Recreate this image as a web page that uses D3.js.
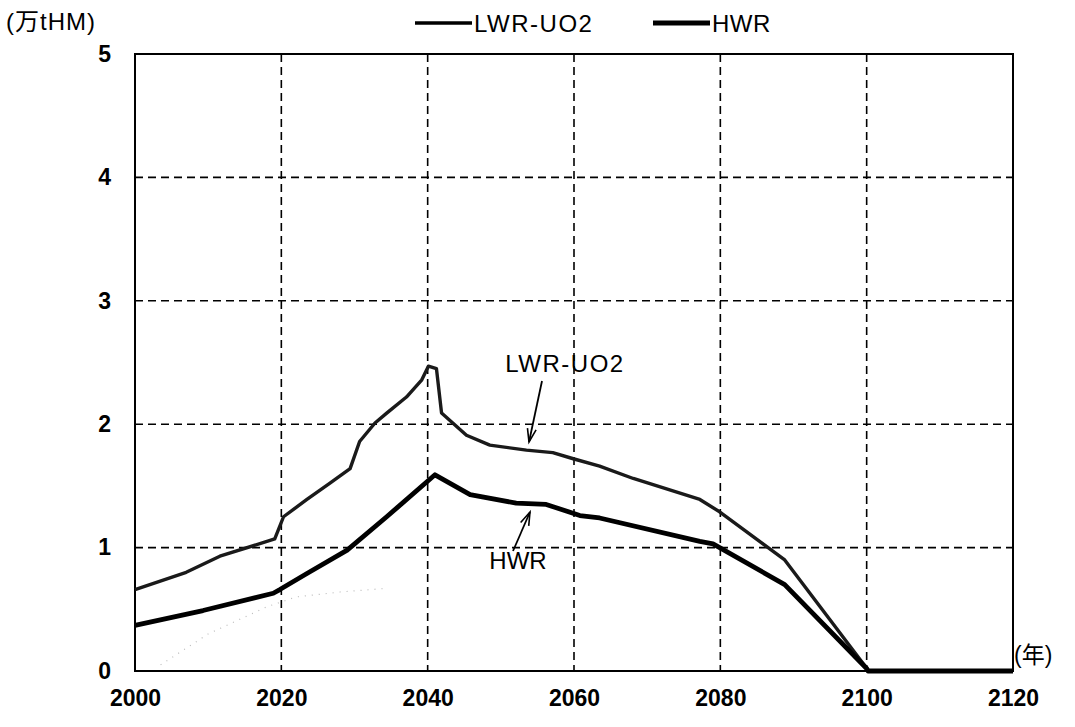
<!DOCTYPE html>
<html lang="ja">
<head>
<meta charset="utf-8">
<script src="https://cdn.jsdelivr.net/npm/d3@7"></script>
<style>
  body { margin: 0; background: #fff; }
  text { font-family: "Liberation Sans", Arial, "Noto Sans CJK JP", sans-serif; fill: #000; }
</style>
</head>
<body>
<script>
// data (unit: 万tHM)
var lwrYears = [2000, 2007, 2011.6, 2019.1, 2020.3, 2023.5, 2026.6, 2029.4, 2030.7, 2032.8, 2034.4, 2037.1, 2039.2, 2040.1, 2041.2, 2041.9, 2045.3, 2048.5, 2053.5, 2057.1, 2059.9, 2063.5, 2068.1, 2077.2, 2079.9, 2088.8, 2099.9, 2100.1, 2120];
var lwrValues = [0.66, 0.80, 0.93, 1.07, 1.25, 1.39, 1.52, 1.64, 1.86, 2.01, 2.09, 2.22, 2.36, 2.47, 2.45, 2.09, 1.91, 1.83, 1.79, 1.77, 1.72, 1.66, 1.56, 1.39, 1.29, 0.90, 0.03, 0, 0];
var hwrYears = [2000, 2009.3, 2018.9, 2019.8, 2023.5, 2029, 2034.4, 2041, 2045.8, 2052.1, 2056.2, 2060.8, 2063.5, 2077.2, 2079, 2088.8, 2100, 2100.2, 2120];
var hwrValues = [0.37, 0.49, 0.63, 0.66, 0.79, 0.98, 1.25, 1.59, 1.43, 1.36, 1.35, 1.26, 1.24, 1.05, 1.03, 0.70, 0.02, 0, 0];
// faint dotted trace visible in the scan
var faintYears = [2003.5, 2010, 2018, 2022, 2028, 2034.4];
var faintValues = [0.05, 0.30, 0.52, 0.60, 0.64, 0.67];
var xTicks = [2000, 2020, 2040, 2060, 2080, 2100, 2120];
var yTicks = [0, 1, 2, 3, 4, 5];
var seriesNames = ["LWR-UO2", "HWR"];

var W = 1075, H = 727;
var x = d3.scaleLinear().domain([2000, 2120]).range([135, 1013]);
var y = d3.scaleLinear().domain([0, 5]).range([671, 54]);

var svg = d3.select("body").append("svg").attr("width", W).attr("height", H);

// grid
var grid = svg.append("g").attr("stroke", "#000").attr("stroke-width", 1.6).attr("stroke-dasharray", "8,5");
grid.selectAll("line.v").data(xTicks.slice(1, -1)).enter().append("line")
  .attr("x1", function(d){ return x(d); }).attr("x2", function(d){ return x(d); })
  .attr("y1", y(5)).attr("y2", y(0));
grid.selectAll("line.h").data(yTicks.slice(1, -1)).enter().append("line")
  .attr("y1", function(d){ return y(d); }).attr("y2", function(d){ return y(d); })
  .attr("x1", x(2000)).attr("x2", x(2120));

// frame
svg.append("rect").attr("x", x(2000)).attr("y", y(5))
  .attr("width", x(2120) - x(2000)).attr("height", y(0) - y(5))
  .attr("fill", "none").attr("stroke", "#000").attr("stroke-width", 2);

// tick labels via d3 axes
var tickFont = "Liberation Sans Narrow, Arial Narrow, Liberation Sans, Arial, sans-serif";
var xAxis = svg.append("g").attr("transform", "translate(0," + y(0) + ")")
  .call(d3.axisBottom(x).tickValues(xTicks).tickFormat(d3.format("d")).tickSize(0).tickPadding(19));
xAxis.select(".domain").remove();
xAxis.selectAll("text").attr("font-size", 23).attr("font-weight", "bold").attr("fill", "#000")
  .attr("font-family", tickFont);

var yAxis = svg.append("g").attr("transform", "translate(" + x(2000) + ",0)")
  .call(d3.axisLeft(y).tickValues(yTicks).tickFormat(d3.format("d")).tickSize(0).tickPadding(24));
yAxis.select(".domain").remove();
yAxis.selectAll("text").attr("font-size", 23).attr("font-weight", "bold").attr("fill", "#000")
  .attr("font-family", tickFont);

svg.append("text").attr("x", 6).attr("y", 30).attr("font-size", 24).attr("letter-spacing", 1).text("(万tHM)");
svg.append("text").attr("x", 1014).attr("y", 663).attr("font-size", 23).text("(年)");

// lines
var lineGen = d3.line().x(function(d){ return x(d[0]); }).y(function(d){ return y(d[1]); });
var faint = d3.zip(faintYears, faintValues);
svg.append("path").datum(faint).attr("d", lineGen)
  .attr("fill", "none").attr("stroke", "#bbb").attr("stroke-width", 1.2).attr("stroke-dasharray", "1,6");

svg.append("path").datum(d3.zip(lwrYears, lwrValues)).attr("d", lineGen)
  .attr("fill", "none").attr("stroke", "#1a1a1a").attr("stroke-width", 3.4)
  .attr("stroke-linejoin", "round");
svg.append("path").datum(d3.zip(hwrYears, hwrValues)).attr("d", lineGen)
  .attr("fill", "none").attr("stroke", "#000").attr("stroke-width", 4.8)
  .attr("stroke-linejoin", "round");

// legend
var legend = svg.append("g");
var legX = [415, 653], legW = [3.4, 4.8];
seriesNames.forEach(function(name, i){
  legend.append("line").attr("x1", legX[i]).attr("x2", legX[i] + 57).attr("y1", 23).attr("y2", 23)
    .attr("stroke", "#000").attr("stroke-width", legW[i]);
  legend.append("text").attr("x", legX[i] + 59).attr("y", 32).attr("font-size", 24)
    .attr("letter-spacing", i === 0 ? 1.5 : 0.5).text(name);
});

// annotations with arrows
function arrow(x1, y1, x2, y2) {
  svg.append("line").attr("x1", x1).attr("y1", y1).attr("x2", x2).attr("y2", y2)
    .attr("stroke", "#000").attr("stroke-width", 1.8);
  var a = Math.atan2(y2 - y1, x2 - x1), L = 14, s = 0.32;
  svg.append("path")
    .attr("d", "M" + (x2 - L * Math.cos(a - s)) + "," + (y2 - L * Math.sin(a - s)) +
      "L" + x2 + "," + y2 + "L" + (x2 - L * Math.cos(a + s)) + "," + (y2 - L * Math.sin(a + s)))
    .attr("fill", "none").attr("stroke", "#000").attr("stroke-width", 1.6);
}
svg.append("text").attr("x", 565).attr("y", 372).attr("text-anchor", "middle").attr("font-size", 24)
  .attr("letter-spacing", 1.5).text("LWR-UO2");
arrow(542, 381, 529, 442);
svg.append("text").attr("x", 518).attr("y", 569).attr("text-anchor", "middle").attr("font-size", 24).text("HWR");
arrow(513, 551, 530, 512);
</script>
</body>
</html>
